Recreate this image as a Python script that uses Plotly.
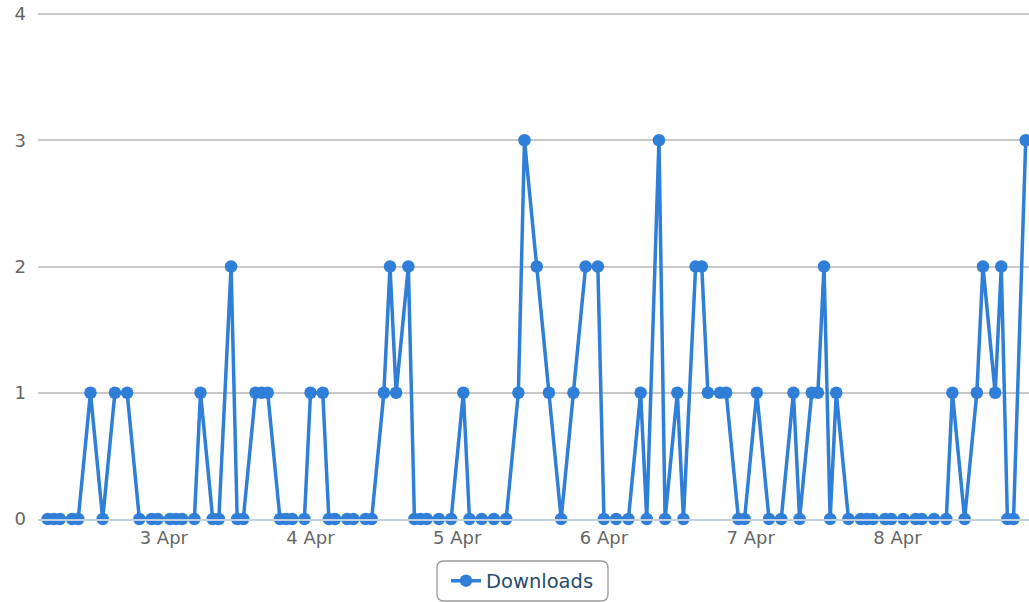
import plotly.graph_objects as go

# Hourly download counts (hours with no record are absent)
times = [
    "2013-04-02 05:00", "2013-04-02 06:00", "2013-04-02 07:00", "2013-04-02 09:00",
    "2013-04-02 10:00", "2013-04-02 12:00", "2013-04-02 14:00", "2013-04-02 16:00",
    "2013-04-02 18:00", "2013-04-02 20:00", "2013-04-02 22:00", "2013-04-02 23:00",
    "2013-04-03 01:00", "2013-04-03 02:00", "2013-04-03 03:00", "2013-04-03 05:00",
    "2013-04-03 06:00", "2013-04-03 08:00", "2013-04-03 09:00", "2013-04-03 11:00",
    "2013-04-03 12:00", "2013-04-03 13:00", "2013-04-03 15:00", "2013-04-03 16:00",
    "2013-04-03 17:00", "2013-04-03 19:00", "2013-04-03 20:00", "2013-04-03 21:00",
    "2013-04-03 23:00", "2013-04-04 00:00", "2013-04-04 02:00", "2013-04-04 03:00",
    "2013-04-04 04:00", "2013-04-04 06:00", "2013-04-04 07:00", "2013-04-04 09:00",
    "2013-04-04 10:00", "2013-04-04 12:00", "2013-04-04 13:00", "2013-04-04 14:00",
    "2013-04-04 16:00", "2013-04-04 17:00", "2013-04-04 18:00", "2013-04-04 19:00",
    "2013-04-04 21:00", "2013-04-04 23:00", "2013-04-05 01:00", "2013-04-05 02:00",
    "2013-04-05 04:00", "2013-04-05 06:00", "2013-04-05 08:00", "2013-04-05 10:00",
    "2013-04-05 11:00", "2013-04-05 13:00", "2013-04-05 15:00", "2013-04-05 17:00",
    "2013-04-05 19:00", "2013-04-05 21:00", "2013-04-05 23:00", "2013-04-06 00:00",
    "2013-04-06 02:00", "2013-04-06 04:00", "2013-04-06 06:00", "2013-04-06 07:00",
    "2013-04-06 09:00", "2013-04-06 10:00", "2013-04-06 12:00", "2013-04-06 13:00",
    "2013-04-06 15:00", "2013-04-06 16:00", "2013-04-06 17:00", "2013-04-06 19:00",
    "2013-04-06 20:00", "2013-04-06 22:00", "2013-04-06 23:00", "2013-04-07 01:00",
    "2013-04-07 03:00", "2013-04-07 05:00", "2013-04-07 07:00", "2013-04-07 08:00",
    "2013-04-07 10:00", "2013-04-07 11:00", "2013-04-07 12:00", "2013-04-07 13:00",
    "2013-04-07 14:00", "2013-04-07 16:00", "2013-04-07 18:00", "2013-04-07 19:00",
    "2013-04-07 20:00", "2013-04-07 22:00", "2013-04-07 23:00", "2013-04-08 01:00",
    "2013-04-08 03:00", "2013-04-08 04:00", "2013-04-08 06:00", "2013-04-08 08:00",
    "2013-04-08 09:00", "2013-04-08 11:00", "2013-04-08 13:00", "2013-04-08 14:00",
    "2013-04-08 16:00", "2013-04-08 17:00", "2013-04-08 18:00", "2013-04-08 19:00",
    "2013-04-08 21:00",
]
downloads = [
    0, 0, 0, 0,
    0, 1, 0, 1,
    1, 0, 0, 0,
    0, 0, 0, 0,
    1, 0, 0, 2,
    0, 0, 1, 1,
    1, 0, 0, 0,
    0, 1, 1, 0,
    0, 0, 0, 0,
    0, 1, 2, 1,
    2, 0, 0, 0,
    0, 0, 1, 0,
    0, 0, 0, 1,
    3, 2, 1, 0,
    1, 2, 2, 0,
    0, 0, 1, 0,
    3, 0, 1, 0,
    2, 2, 1, 1,
    1, 0, 0, 1,
    0, 0, 1, 0,
    1, 1, 2, 0,
    1, 0, 0, 0,
    0, 0, 0, 0,
    0, 0, 0, 0,
    1, 0, 1, 2,
    1, 2, 0, 0,
    3,
]
series_name = "Downloads"
y_ticks = [0, 1, 2, 3, 4]
x_range = ["2013-04-02 03:25", "2013-04-08 21:32"]

W, H = 1029, 602
ML, MR, MT, MB = 38, 0, 10, 83
PW, PH = W - ML - MR, H - MT - MB
TOP_GAP = 4  # pixels between plot top edge and the "4" gridline
y_top = 4 * PH / (PH - TOP_GAP)

def px_x(p):
    return (p - ML) / PW

def px_y(p):
    return (H - MB - p) / PH

fig = go.Figure()
fig.add_trace(go.Scatter(
    x=times, y=downloads, name=series_name, mode="lines+markers",
    line=dict(color="#2f7ed8", width=3.5),
    marker=dict(color="#2f7ed8", size=12.5),
    cliponaxis=False,
))

# rounded legend box
x0, x1, y0, y1, r = 437, 608, 561, 601, 7
path = (
    f"M {px_x(x0+r)},{px_y(y0)} L {px_x(x1-r)},{px_y(y0)} "
    f"Q {px_x(x1)},{px_y(y0)} {px_x(x1)},{px_y(y0+r)} "
    f"L {px_x(x1)},{px_y(y1-r)} Q {px_x(x1)},{px_y(y1)} {px_x(x1-r)},{px_y(y1)} "
    f"L {px_x(x0+r)},{px_y(y1)} Q {px_x(x0)},{px_y(y1)} {px_x(x0)},{px_y(y1-r)} "
    f"L {px_x(x0)},{px_y(y0+r)} Q {px_x(x0)},{px_y(y0)} {px_x(x0+r)},{px_y(y0)} Z"
)
fig.add_shape(type="path", path=path, xref="paper", yref="paper",
              line=dict(color="#9a9a9a", width=1.3), fillcolor="rgba(0,0,0,0)")

fig.update_layout(
    width=W, height=H,
    margin=dict(l=ML, r=MR, t=MT, b=MB, autoexpand=False),
    paper_bgcolor="white", plot_bgcolor="white",
    font=dict(family="DejaVu Sans", color="#666666", size=18),
    showlegend=True,
    legend=dict(
        x=px_x((x0 + x1) / 2), y=px_y((y0 + y1) / 2),
        xanchor="center", yanchor="middle",
        orientation="h", bgcolor="rgba(0,0,0,0)", borderwidth=0,
        font=dict(family="DejaVu Sans", size=19.5, color="#274b6d"),
        itemwidth=30,
    ),
    xaxis=dict(
        type="date", range=x_range, automargin=False,
        tick0="2013-04-03", dtick=86400000, tickformat="%-d %b",
        showgrid=False, zeroline=False,
        showline=True, linecolor="#C0D0E0", linewidth=1.5,
        ticks="", ticklabelstandoff=2,
        tickfont=dict(size=18, color="#666666"),
    ),
    yaxis=dict(
        range=[0, y_top], tickvals=y_ticks, automargin=False,
        showgrid=True, gridcolor="#C8C8C8", gridwidth=1.5,
        zeroline=False, showline=False, ticks="",
        ticklabelstandoff=11,
        tickfont=dict(size=18, color="#666666"),
    ),
)

fig.write_html(
    "out.html",
    config={"displayModeBar": False},
    post_script="document.body.style.margin='0';document.body.style.overflow='hidden';",
)
